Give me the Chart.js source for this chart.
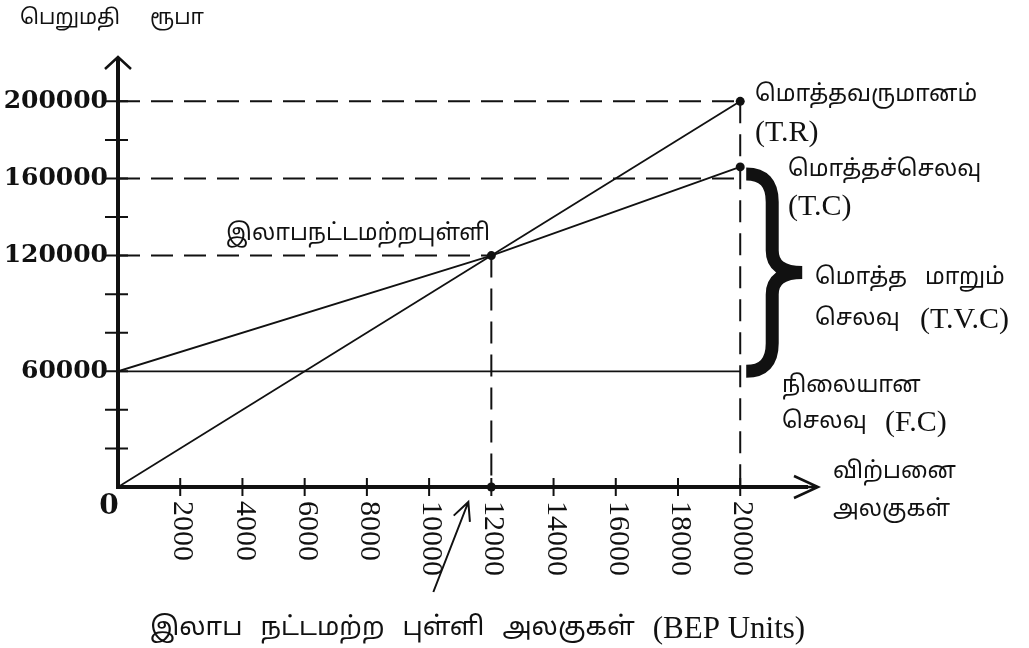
<!DOCTYPE html>
<html>
<head>
<meta charset="utf-8">
<script src="https://cdn.jsdelivr.net/npm/chart.js@4.4.1/dist/chart.umd.min.js"></script>
<style>
    body { margin: 0; background: #fff; }
    #wrap { width: 1029px; height: 648px; }
</style>
</head>
<body>
<div id="wrap"><canvas id="bep-chart" width="1029" height="648"></canvas></div>
<script>
// values
const units = [0, 12000, 20000];
const totalRevenue = [0, 120000, 200000];
const totalCost = [60000, 120000, 166000];
const fixedCost = [60000, 60000, 60000];

const xTickValues = [2000, 4000, 6000, 8000, 10000, 12000, 14000, 16000, 18000, 20000];
const yTickValues = [20000, 40000, 60000, 80000, 100000, 120000, 140000, 160000, 180000, 200000];
const yTickLabels = [60000, 120000, 160000, 200000];

const bepUnits = 12000;
const bepValue = 120000;
const maxUnits = 20000;
const revenueGuide = 200000;
const costGuide = 160000;

const TAMIL_FACE = '"Noto Sans Tamil", "Noto Serif Tamil", "Lohit Tamil", "Latha", sans-serif';
const TA = '23px ' + TAMIL_FACE;
const TA_BIG = '26px ' + TAMIL_FACE;
const LATIN = '30px "Liberation Serif", serif';

const toPoints = (xs, ys) => xs.map((x, i) => ({ x: x, y: ys[i] }));

function lineSet(data, dashed) {
    return {
        data: data,
        borderColor: '#111',
        borderWidth: dashed ? 2 : 1.8,
        borderDash: dashed ? [22, 11] : [],
        pointRadius: 0,
        tension: 0,
        fill: false
    };
}

const datasets = [
    // guide lines
    lineSet([{ x: 0, y: revenueGuide }, { x: maxUnits, y: revenueGuide }], true),
    lineSet([{ x: 0, y: costGuide }, { x: maxUnits, y: costGuide }], true),
    lineSet([{ x: 0, y: bepValue }, { x: bepUnits, y: bepValue }], true),
    lineSet([{ x: bepUnits, y: bepValue }, { x: bepUnits, y: 0 }], true),
    lineSet([{ x: maxUnits, y: revenueGuide }, { x: maxUnits, y: 0 }], true),
    // revenue, total cost and fixed cost
    lineSet(toPoints(units, totalRevenue), false),
    lineSet(toPoints(units, totalCost), false),
    lineSet(toPoints(units, fixedCost), false),
    {
        data: [
            { x: maxUnits, y: totalRevenue[2] },
            { x: maxUnits, y: totalCost[2] },
            { x: bepUnits, y: bepValue },
            { x: bepUnits, y: 0 }
        ],
        showLine: false,
        pointRadius: 4.5,
        pointBackgroundColor: '#111',
        pointBorderWidth: 0,
        clip: false
    }
];

function text(ctx, str, x, y, font, align) {
    ctx.font = font;
    ctx.textAlign = align || 'left';
    ctx.textBaseline = 'middle';
    ctx.fillText(str, x, y);
}

// each run is [string, font, x]
function runs(ctx, parts, y) {
    parts.forEach(p => text(ctx, p[0], p[2], y, p[1]));
}

// words one after another with a fixed gap
function flow(ctx, words, x, y, gap) {
    words.forEach(w => {
        text(ctx, w[0], x, y, w[1]);
        x += ctx.measureText(w[0]).width + gap;
    });
}

const axesPlugin = {
    id: 'bepAxes',
    afterDatasetsDraw(chart) {
        const ctx = chart.ctx;
        const xs = chart.scales.x;
        const ys = chart.scales.y;
        const x0 = xs.getPixelForValue(0);
        const y0 = ys.getPixelForValue(0);
        const top = chart.chartArea.top;
        const right = chart.chartArea.right;

        ctx.save();
        ctx.strokeStyle = '#111';
        ctx.fillStyle = '#111';
        ctx.lineCap = 'butt';

        // thick axes
        ctx.lineWidth = 4;
        ctx.beginPath();
        ctx.moveTo(x0, y0 + 2);
        ctx.lineTo(x0, top + 2);
        ctx.moveTo(x0 - 2, y0);
        ctx.lineTo(right - 10, y0);
        ctx.stroke();

        // arrow heads
        ctx.lineWidth = 2.5;
        ctx.beginPath();
        ctx.moveTo(x0 - 13, top + 12);
        ctx.lineTo(x0, top);
        ctx.lineTo(x0 + 13, top + 12);
        ctx.moveTo(right - 24, y0 - 11);
        ctx.lineTo(right, y0);
        ctx.lineTo(right - 24, y0 + 11);
        ctx.moveTo(right - 12, y0);
        ctx.lineTo(right, y0);
        ctx.stroke();

        // tick marks crossing the axes
        ctx.lineWidth = 2;
        ctx.beginPath();
        yTickValues.forEach(v => {
            const py = ys.getPixelForValue(v);
            ctx.moveTo(x0 - 13, py);
            ctx.lineTo(x0 + 10, py);
        });
        xTickValues.forEach(v => {
            const px = xs.getPixelForValue(v);
            ctx.moveTo(px, y0 - 9);
            ctx.lineTo(px, y0 + 9);
        });
        ctx.stroke();

        // y tick labels
        yTickLabels.forEach(v => {
            text(ctx, String(v), x0 - 10, ys.getPixelForValue(v), 'bold 25px "DejaVu Serif"', 'right');
        });
        text(ctx, '0', x0 - 9, y0 + 20, 'bold 28px "DejaVu Serif"', 'center');

        // x tick labels, turned to read downwards
        xTickValues.forEach(v => {
            const px = xs.getPixelForValue(v);
            ctx.save();
            ctx.translate(px + 2, y0 + 14);
            ctx.rotate(Math.PI / 2);
            text(ctx, String(v), 0, 0, '30px "Liberation Serif"', 'left');
            ctx.restore();
        });

        // brace for total variable cost
        const bx = xs.getPixelForValue(maxUnits);
        const bTop = ys.getPixelForValue(totalCost[2]) + 7;
        const bBot = ys.getPixelForValue(fixedCost[2]);
        const bMid = (bTop + bBot) / 2;
        const spine = bx + 32;
        const tip = bx + 62;
        ctx.lineWidth = 13;
        ctx.beginPath();
        ctx.moveTo(bx + 6, bTop);
        ctx.quadraticCurveTo(spine, bTop, spine, bTop + 28);
        ctx.lineTo(spine, bMid - 22);
        ctx.quadraticCurveTo(spine, bMid, tip, bMid);
        ctx.quadraticCurveTo(spine, bMid, spine, bMid + 22);
        ctx.lineTo(spine, bBot - 28);
        ctx.quadraticCurveTo(spine, bBot, bx + 6, bBot);
        ctx.stroke();

        // pointer to the break-even units
        const ax = xs.getPixelForValue(bepUnits) - 23;
        const ay = y0 + 15;
        const bx2 = ax - 35;
        const by2 = ay + 90;
        const ang = Math.atan2(ay - by2, ax - bx2);
        ctx.lineWidth = 2;
        ctx.beginPath();
        ctx.moveTo(bx2, by2);
        ctx.lineTo(ax, ay);
        ctx.moveTo(ax - 20 * Math.cos(ang - 0.45), ay - 20 * Math.sin(ang - 0.45));
        ctx.lineTo(ax, ay);
        ctx.lineTo(ax - 20 * Math.cos(ang + 0.45), ay - 20 * Math.sin(ang + 0.45));
        ctx.stroke();

        ctx.restore();
    },
    afterDraw(chart) {
        const ctx = chart.ctx;
        ctx.save();
        ctx.fillStyle = '#111';
        runs(ctx, [['பெறுமதி', '21px ' + TAMIL_FACE, 20], ['ரூபா', '21px ' + TAMIL_FACE, 150]], 20);
        text(ctx, 'இலாபநட்டமற்றபுள்ளி', 226, 235, TA);
        text(ctx, 'மொத்தவருமானம்', 755, 96, TA);
        text(ctx, '(T.R)', 755, 133, LATIN);
        text(ctx, 'மொத்தச்செலவு', 788, 171, TA);
        text(ctx, '(T.C)', 788, 207, LATIN);
        runs(ctx, [['மொத்த', TA, 815], ['மாறும்', TA, 925]], 279);
        runs(ctx, [['செலவு', TA, 815], ['(T.V.C)', LATIN, 920]], 320);
        text(ctx, 'நிலையான', 782, 387, TA);
        runs(ctx, [['செலவு', TA, 782], ['(F.C)', LATIN, 885]], 423);
        text(ctx, 'விற்பனை', 833, 473, TA);
        text(ctx, 'அலகுகள்', 833, 511, TA);
        flow(ctx, [
            ['இலாப', TA_BIG],
            ['நட்டமற்ற', TA_BIG],
            ['புள்ளி', TA_BIG],
            ['அலகுகள்', TA_BIG],
            ['(BEP Units)', '31px "Liberation Serif", serif']
        ], 150, 630, 18);
        ctx.restore();
    }
};

new Chart(document.getElementById('bep-chart'), {
    type: 'line',
    data: { datasets: datasets },
    options: {
        responsive: false,
        animation: false,
        layout: { padding: { left: 118, top: 57, right: 211, bottom: 161 } },
        plugins: { legend: { display: false }, tooltip: { enabled: false } },
        scales: {
            x: { type: 'linear', min: 0, max: 22500, display: false },
            y: { type: 'linear', min: 0, max: 223000, display: false }
        }
    },
    plugins: [axesPlugin]
});
</script>
</body>
</html>
